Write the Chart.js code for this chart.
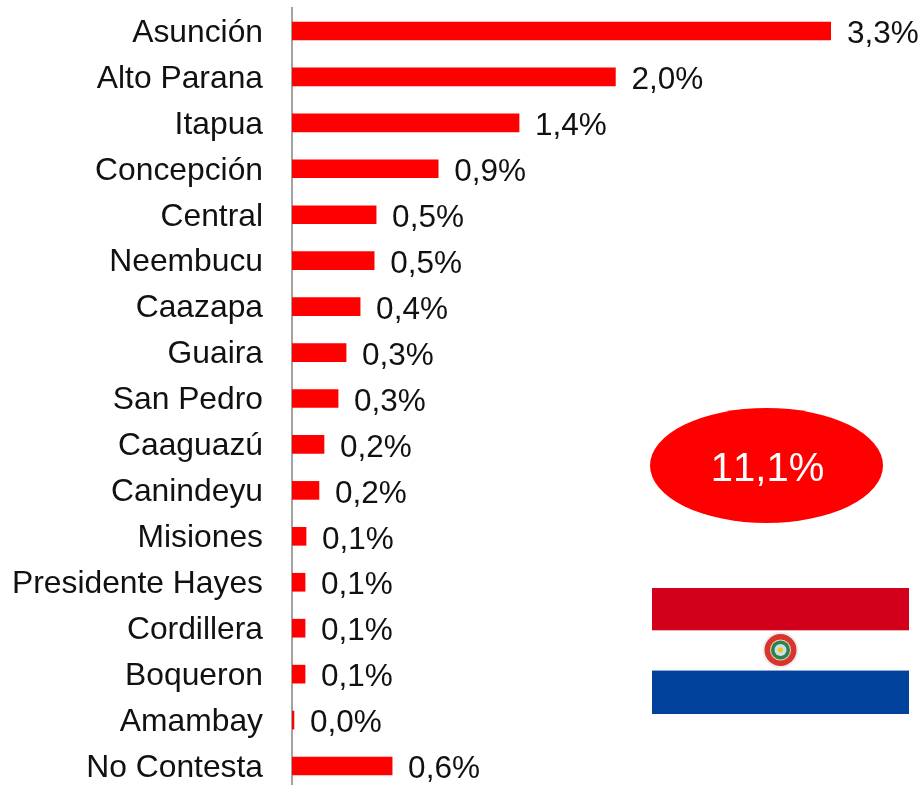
<!DOCTYPE html>
<html>
<head>
<meta charset="utf-8">
<script src="https://cdn.jsdelivr.net/npm/chart.js@4"></script>
<style>html,body{margin:0;padding:0;background:#fff;overflow:hidden}canvas{display:block}</style>
</head>
<body>
<canvas id="c" width="924" height="800"></canvas>
<script>
const categories = ["Asunción","Alto Parana","Itapua","Concepción","Central","Neembucu","Caazapa","Guaira","San Pedro","Caaguazú","Canindeyu","Misiones","Presidente Hayes","Cordillera","Boqueron","Amambay","No Contesta"];
const values = [3.3,1.98,1.39,0.895,0.515,0.503,0.417,0.331,0.282,0.196,0.165,0.086,0.08,0.08,0.08,0.012,0.613];
const valueLabels = ["3,3%","2,0%","1,4%","0,9%","0,5%","0,5%","0,4%","0,3%","0,3%","0,2%","0,2%","0,1%","0,1%","0,1%","0,1%","0,0%","0,6%"];
const totalLabel = "11,1%";
const FONT = '"Liberation Sans", Arial, sans-serif';

const valueLabelPlugin = {
  id: 'valueLabels',
  afterDatasetsDraw(chart) {
    const ctx = chart.ctx;
    const meta = chart.getDatasetMeta(0);
    ctx.save();
    ctx.font = '31.5px ' + FONT;
    ctx.fillStyle = '#111';
    ctx.textAlign = 'left';
    ctx.textBaseline = 'middle';
    meta.data.forEach((bar, i) => ctx.fillText(valueLabels[i], bar.x + 16, bar.y + 3.5));
    ctx.restore();
  }
};

const decorPlugin = {
  id: 'decor',
  afterDraw(chart) {
    const ctx = chart.ctx;
    ctx.save();
    // total ellipse
    ctx.fillStyle = '#ff0000';
    ctx.beginPath();
    ctx.ellipse(766.5, 465.5, 116.5, 57.5, 0, 0, Math.PI * 2);
    ctx.fill();
    ctx.fillStyle = '#fff';
    ctx.font = '40px ' + FONT;
    ctx.fontKerning = 'none';
    ctx.textAlign = 'center';
    ctx.textBaseline = 'middle';
    ctx.fillText(totalLabel, 767.5, 469.5);
    // flag
    ctx.fillStyle = '#d2001a';
    ctx.fillRect(652, 588, 257, 42);
    ctx.fillStyle = '#ffffff';
    ctx.fillRect(652, 630, 257, 41);
    ctx.fillStyle = '#00429c';
    ctx.fillRect(652, 671, 257, 43);
    ctx.fillStyle = '#e8b4ba';
    ctx.fillRect(652, 630, 257, 1);
    ctx.fillStyle = '#8fa9d2';
    ctx.fillRect(652, 670, 257, 1);
    const cx = 780.5, cy = 650;
    const ring = (r, col) => { ctx.fillStyle = col; ctx.beginPath(); ctx.arc(cx, cy, r, 0, Math.PI * 2); ctx.fill(); };
    ring(18, '#eeeeee');
    ring(16, '#d9342e');
    ring(10.5, '#ead2b0');
    ring(9.5, '#2a8450');
    ring(6, '#cfe0e4');
    ring(2.5, '#f1c40f');
    ctx.restore();
  }
};

new Chart(document.getElementById('c'), {
  type: 'bar',
  data: {
    labels: categories,
    datasets: [{ data: values, backgroundColor: '#ff0000', borderWidth: 0, barThickness: 18 }]
  },
  plugins: [valueLabelPlugin, decorPlugin],
  options: {
    indexAxis: 'y',
    responsive: false,
    animation: false,
    layout: { autoPadding: false, padding: { top: 8, right: 93, bottom: 11, left: 0 } },
    plugins: { legend: { display: false }, tooltip: { enabled: false }, title: { display: false } },
    scales: {
      x: { display: false, min: 0, max: 3.3 },
      y: {
        afterFit(scale) { scale.width = 292; scale.paddingTop = 0; scale.paddingBottom = 0; },
        grid: { display: false, drawTicks: false },
        border: { display: true, color: '#a3a3a3', width: 2 },
        ticks: { autoSkip: false, padding: 29, labelOffset: 2, color: '#111', font: { family: FONT, size: 31.8 } }
      }
    }
  }
});
</script>
</body>
</html>
